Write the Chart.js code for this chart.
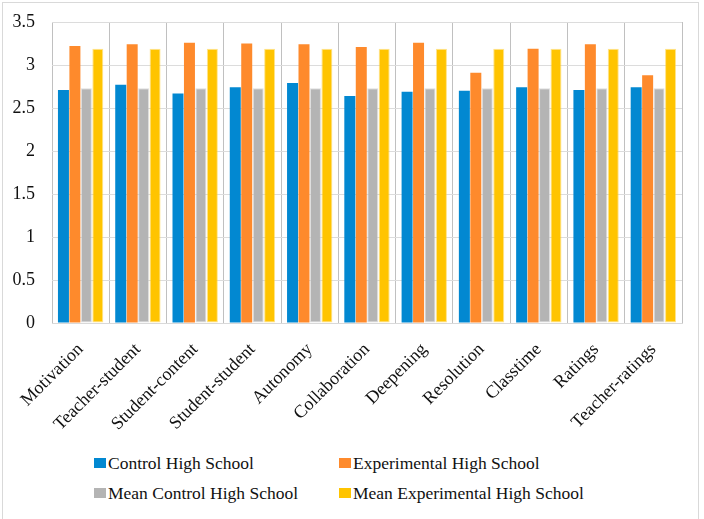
<!DOCTYPE html>
<html>
<head>
<meta charset="utf-8">
<script src="https://cdn.jsdelivr.net/npm/chart.js@4.4.1/dist/chart.umd.min.js"></script>
<style>
    html, body { margin: 0; padding: 0; background: #fff; }
    #wrap { position: relative; width: 704px; height: 519px; overflow: hidden; }
    #frame { position: absolute; left: 2px; top: 2px; width: 697px; height: 520px; border: 1px solid #d9d9d9; box-sizing: border-box; }
    #box { position: absolute; left: 0; top: 0; width: 704px; height: 440px; }
    #legend { position: absolute; left: 94px; top: 452px; display: grid; grid-template-columns: 245px 260px; row-gap: 8px;
              font-family: 'Liberation Serif', 'Times New Roman', serif; font-size: 17.5px; color: #111; }
    .item { display: flex; align-items: center; height: 22px; }
    .sw { width: 12px; height: 10px; margin-right: 2px; }
</style>
</head>
<body>
<div id="wrap">
    <div id="frame"></div>
    <div id="box"><canvas id="barChart"></canvas></div>
    <div id="legend"></div>
</div>
<script>
// 데이터
const categories = ['Motivation', 'Teacher-student', 'Student-content', 'Student-student', 'Autonomy',
    'Collaboration', 'Deepening', 'Resolution', 'Classtime', 'Ratings', 'Teacher-ratings'];
const controlHS = [2.71, 2.77, 2.67, 2.74, 2.79, 2.64, 2.69, 2.70, 2.74, 2.71, 2.74];
const experimentalHS = [3.22, 3.24, 3.26, 3.25, 3.24, 3.21, 3.26, 2.91, 3.19, 3.24, 2.88];
const meanControlHS = [2.73, 2.73, 2.73, 2.73, 2.73, 2.73, 2.73, 2.73, 2.73, 2.73, 2.73];
const meanExperimentalHS = [3.19, 3.19, 3.19, 3.19, 3.19, 3.19, 3.19, 3.19, 3.19, 3.19, 3.19];
const yTicks = ['0', '0.5', '1', '1.5', '2', '2.5', '3', '3.5'];

const serif = "'Liberation Serif', 'Times New Roman', serif";

document.addEventListener('DOMContentLoaded', function() {
    const ctx = document.getElementById('barChart');
    const chart = new Chart(ctx.getContext('2d'), {
        type: 'bar',
        data: {
            labels: categories,
            datasets: [
                {
                    label: 'Control High School',
                    data: controlHS,
                    backgroundColor: '#0288d1'
                },
                {
                    label: 'Experimental High School',
                    data: experimentalHS,
                    backgroundColor: '#fe8a2c'
                },
                {
                    label: 'Mean Control High School',
                    data: meanControlHS,
                    backgroundColor: '#b4b4b4',
                    borderColor: 'rgba(200,200,200,0.6)',
                    borderWidth: 1,
                    borderSkipped: false
                },
                {
                    label: 'Mean Experimental High School',
                    data: meanExperimentalHS,
                    backgroundColor: '#ffc400',
                    borderColor: 'rgba(255,210,60,0.6)',
                    borderWidth: 1,
                    borderSkipped: false
                }
            ]
        },
        options: {
            responsive: true,
            maintainAspectRatio: false,
            animation: false,
            layout: { padding: { top: 22, right: 22, left: 0, bottom: 0 } },
            datasets: { bar: { categoryPercentage: 0.8, barPercentage: 0.96 } },
            scales: {
                x: {
                    afterFit: function(scale) { scale.height = 117; },
                    grid: { offset: true, color: '#c0c0c0', drawTicks: false },
                    border: { color: '#d9d9d9' },
                    ticks: {
                        autoSkip: false,
                        minRotation: 45,
                        maxRotation: 45,
                        padding: 16,
                        color: '#111',
                        font: { family: serif, size: 18 }
                    }
                },
                y: {
                    min: 0,
                    max: 3.5,
                    afterFit: function(scale) {
                        scale.width = 52;
                        // 눈금 padding이 위/아래 여백으로 번지지 않게
                        scale.paddingTop = 0;
                        scale.paddingBottom = 0;
                    },
                    grid: { color: '#dcdcdc', drawTicks: false },
                    border: { display: false },
                    ticks: {
                        stepSize: 0.5,
                        padding: 17,
                        color: '#111',
                        font: { family: serif, size: 18 },
                        callback: function(value, index) { return yTicks[index]; }
                    }
                }
            },
            plugins: {
                legend: { display: false },
                tooltip: { enabled: false }
            }
        }
    });

    // 범례 (2열)
    const legendEl = document.getElementById('legend');
    chart.data.datasets.forEach(function(ds) {
        const item = document.createElement('div');
        item.className = 'item';
        const sw = document.createElement('span');
        sw.className = 'sw';
        sw.style.background = ds.backgroundColor;
        const txt = document.createElement('span');
        txt.textContent = ds.label;
        item.appendChild(sw);
        item.appendChild(txt);
        legendEl.appendChild(item);
    });
});
</script>
</body>
</html>
